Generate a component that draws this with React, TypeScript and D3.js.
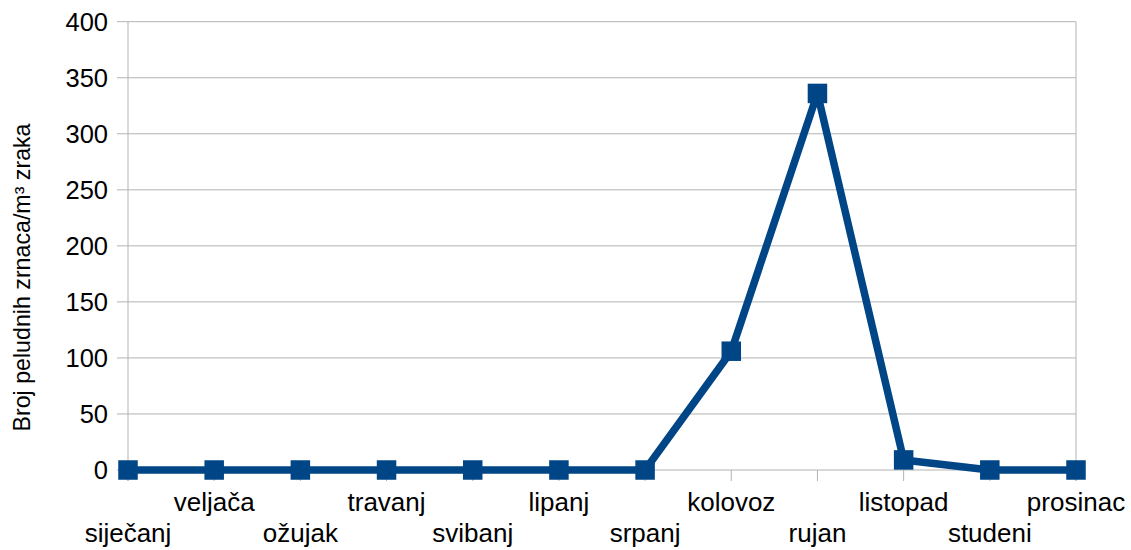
import React from "react";
import * as d3 from "d3";

const months = ["siječanj", "veljača", "ožujak", "travanj", "svibanj", "lipanj", "srpanj", "kolovoz", "rujan", "listopad", "studeni", "prosinac"];
const values = [0, 0, 0, 0, 0, 0, 0, 106, 336, 9, 0, 0];
const yTicks = [0, 50, 100, 150, 200, 250, 300, 350, 400];
const yTitle = "Broj peludnih zrnaca/m³ zraka";

const W = 1131;
const H = 550;
const left = 128;
const right = 1076;
const top = 21.7;
const bottom = 470;
const grid = "#b3b3b3";
const color = "#004586";
const font = "'Liberation Sans', Arial, sans-serif";

export default function App() {
  const x = d3.scalePoint<string>().domain(months).range([left, right]);
  const y = d3.scaleLinear().domain([0, 400]).range([bottom, top]);
  const line = d3
    .line<number>()
    .x((_, i) => x(months[i]) as number)
    .y((d) => y(d));
  const m = 19.5;
  return (
    <svg
      width={W}
      height={H}
      style={{ position: "absolute", left: 0, top: 0, background: "#fff" }}
      fontFamily={font}
    >
      {yTicks.map((t) => (
        <g key={t}>
          <line x1={left} x2={right} y1={y(t)} y2={y(t)} stroke={grid} strokeWidth={1} />
          <line x1={left - 11} x2={left} y1={y(t)} y2={y(t)} stroke={grid} strokeWidth={1} />
          <text x={108} y={y(t)} dy="0.36em" textAnchor="end" fontSize={25.5} fill="#000">
            {t}
          </text>
        </g>
      ))}
      <line x1={left} x2={left} y1={top} y2={bottom + 11} stroke={grid} strokeWidth={1} />
      <line x1={right} x2={right} y1={top} y2={bottom + 11} stroke={grid} strokeWidth={1} />
      {months.map((mo, i) => (
        <g key={mo}>
          <line x1={x(mo)} x2={x(mo)} y1={bottom} y2={bottom + 11} stroke={grid} strokeWidth={1} />
          <text
            x={x(mo)}
            y={i % 2 === 0 ? 542 : 511}
            textAnchor="middle"
            fontSize={26}
            fill="#000"
          >
            {mo}
          </text>
        </g>
      ))}
      <path d={line(values) || ""} fill="none" stroke={color} strokeWidth={7.5} strokeLinejoin="round" />
      {values.map((v, i) => (
        <rect
          key={i}
          x={(x(months[i]) as number) - m / 2}
          y={y(v) - m / 2}
          width={m}
          height={m}
          fill={color}
        />
      ))}
      <text
        transform={`translate(30,277.5) rotate(-90)`}
        textAnchor="middle"
        fontSize={23.2}
        fill="#000"
      >
        {yTitle}
      </text>
    </svg>
  );
}
